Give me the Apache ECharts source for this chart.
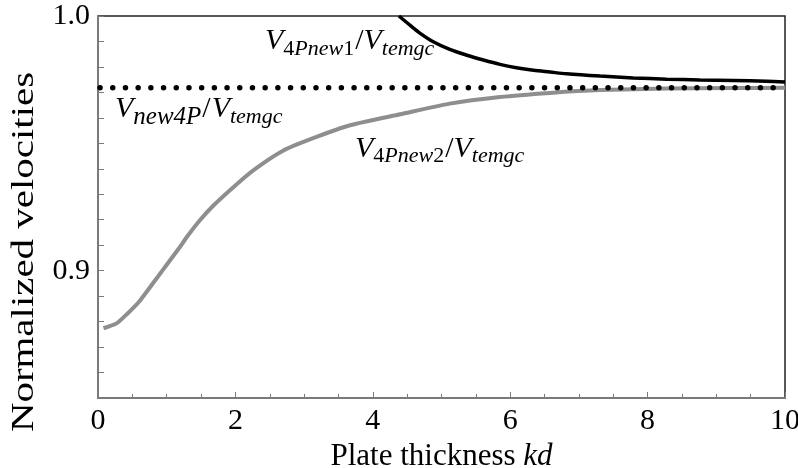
<!DOCTYPE html>
<html>
<head>
<meta charset="utf-8">
<script src="https://cdn.jsdelivr.net/npm/echarts@6/dist/echarts.min.js"></script>
<style>
html,body{margin:0;padding:0;background:#fff;}
#c{width:798px;height:468px;}
</style>
</head>
<body>
<div id="c"></div>
<script>
// ---- data ----
const new1KD  = [4.38, 4.55, 4.69, 4.88, 5.12, 5.37, 5.61, 5.85, 6.09, 6.34, 6.58, 6.82, 7.31, 7.79, 8.28, 8.76, 9.25, 9.73, 10.0];
const new1Val = [1.0000, 0.9962, 0.9932, 0.9899, 0.9869, 0.9846, 0.9827, 0.9810, 0.9797, 0.9787, 0.9780, 0.9773, 0.9764, 0.9757, 0.9752, 0.9749, 0.9747, 0.9744, 0.9741];

const new2KD  = [0.08, 0.27, 0.42, 0.61, 0.90, 1.00, 1.19, 1.29, 1.48, 1.68, 1.97, 2.26, 2.70, 3.18, 3.67, 4.40, 5.12, 5.85, 6.58, 7.31, 8.28, 9.20, 10.0];
const new2Val = [0.8774, 0.8793, 0.8829, 0.8882, 0.8987, 0.9023, 0.9092, 0.9131, 0.9197, 0.9256, 0.9328, 0.9394, 0.9472, 0.9525, 0.9571, 0.9614, 0.9656, 0.9682, 0.9698, 0.9709, 0.9715, 0.9717, 0.9718];

const new4PKD  = [0.03, 10.0];
const new4PVal = [0.9718, 0.9718];

const xTickLabels = ['0', '2', '4', '6', '8', '10'];
const yTickLabels = ['0.9', '1.0'];

// label anchors in data coordinates (kd, value) -- start of text baseline
const lbl1Anchor = [2.43, 0.9866];
const lbl2Anchor = [0.247, 0.9600];
const lbl3Anchor = [3.74, 0.9445];

const FONT = 'Liberation Serif';
const zip = (a, b) => a.map((v, i) => [v, b[i]]);

const chart = echarts.init(document.getElementById('c'), null, {renderer: 'canvas'});

const option = {
  animation: false,
  backgroundColor: '#fff',
  grid: {left: 98, right: 13, top: 16, bottom: 70, containLabel: false, outerBoundsMode: 'none',
         show: true, borderColor: '#222', borderWidth: 1.5, backgroundColor: 'transparent'},
  xAxis: {
    type: 'value', min: 0, max: 10, interval: 2,
    axisLine: {show: true, onZero: false, lineStyle: {color: '#7a7a7a', width: 2}},
    axisTick: {show: true, inside: true, length: 6, lineStyle: {color: '#7a7a7a', width: 1}},
    minorTick: {show: true, splitNumber: 4, length: 4, lineStyle: {color: '#7a7a7a', width: 1}},
    splitLine: {show: false},
    axisLabel: {
      fontSize: 30, fontFamily: FONT, color: '#000', margin: 8,
      formatter: v => { const s = String(Math.round(v)); return xTickLabels.includes(s) ? s : ''; }
    },
    name: 'Plate thickness {i|kd}',
    nameLocation: 'middle', nameGap: 35,
    nameTextStyle: {fontSize: 31, fontFamily: FONT, color: '#000',
      rich: {i: {fontSize: 31, fontFamily: FONT, fontStyle: 'italic', color: '#000'}}}
  },
  yAxis: {
    type: 'value', min: 0.85, max: 1.0, interval: 0.01,
    axisLine: {show: true, onZero: false, lineStyle: {color: '#7a7a7a', width: 2}},
    axisTick: {show: true, inside: true, length: 6, lineStyle: {color: '#7a7a7a', width: 1}},
    splitLine: {show: false},
    axisLabel: {
      fontSize: 30, fontFamily: FONT, color: '#000', margin: 8,
      formatter: v => { const t = (+v.toFixed(2)).toFixed(1); return (Math.abs(v - +t) < 1e-6 && yTickLabels.includes(t)) ? t : ''; }
    }
  },
  series: [
    {type: 'line', name: 'new2', data: zip(new2KD, new2Val), showSymbol: false, smooth: 0.2,
     lineStyle: {color: '#8e8e8e', width: 4}, z: 2},
    {type: 'line', name: 'new4P', data: zip(new4PKD, new4PVal), showSymbol: false,
     lineStyle: {color: '#000', width: 5.5, type: [0, 12.7], cap: 'round'}, z: 3},
    {type: 'line', name: 'new1', data: zip(new1KD, new1Val), showSymbol: false, smooth: 0.3,
     lineStyle: {color: '#000', width: 3.5}, z: 4}
  ]
};
chart.setOption(option);

// ---- labels with sub-scripts ----
const mctx = document.createElement('canvas').getContext('2d');
function measure(t, size, italic) {
  mctx.font = (italic ? 'italic ' : '') + size + 'px ' + FONT;
  return mctx.measureText(t).width;
}
function buildLabel(anchor, parts) {
  const p = chart.convertToPixel({gridIndex: 0}, anchor);
  let x = p[0];
  const els = [];
  parts.forEach(pt => {
    const desc = 0.216 * pt.s;
    els.push({type: 'text', x: x + (pt.dx || 0), y: p[1] + desc + (pt.dy || 0), z: 100,
      style: {text: pt.t, fontSize: pt.s, fontFamily: FONT, fontStyle: pt.i ? 'italic' : 'normal',
        fill: '#000', align: 'left', verticalAlign: 'bottom'}});
    x += measure(pt.t, pt.s, pt.i) + (pt.dx || 0);
  });
  return els;
}
const SUB = 22, MAIN = 30, DY = 5.5;
const lbl1 = buildLabel(lbl1Anchor, [
  {t: 'V', s: MAIN, i: true}, {t: '4', s: SUB, dy: DY}, {t: 'Pnew', s: SUB, i: true, dy: DY}, {t: '1', s: SUB, dy: DY},
  {t: '/', s: MAIN, dx: 1}, {t: 'V', s: MAIN, i: true}, {t: 'temgc', s: SUB, i: true, dy: DY}]);
const lbl2 = buildLabel(lbl2Anchor, [
  {t: 'V', s: MAIN, i: true}, {t: 'new4P', s: 25, i: true, dy: DY + 1},
  {t: '/', s: MAIN, dx: 1}, {t: 'V', s: MAIN, i: true, dx: 1}, {t: 'temgc', s: SUB, i: true, dy: DY}]);
const lbl3 = buildLabel(lbl3Anchor, [
  {t: 'V', s: MAIN, i: true}, {t: '4', s: SUB, dy: DY}, {t: 'Pnew', s: SUB, i: true, dy: DY}, {t: '2', s: SUB, dy: DY},
  {t: '/', s: MAIN, dx: 1}, {t: 'V', s: MAIN, i: true}, {t: 'temgc', s: SUB, i: true, dy: DY}]);

const yTitle = {type: 'text', x: 25, y: 252, rotation: Math.PI / 2, scaleX: 1.32, z: 100,
  style: {text: 'Normalized velocities', fontSize: 31, fontFamily: FONT, fill: '#000', align: 'center', verticalAlign: 'middle'}};

chart.setOption({graphic: {elements: [].concat(lbl1, lbl2, lbl3, [yTitle])}});
</script>
</body>
</html>
